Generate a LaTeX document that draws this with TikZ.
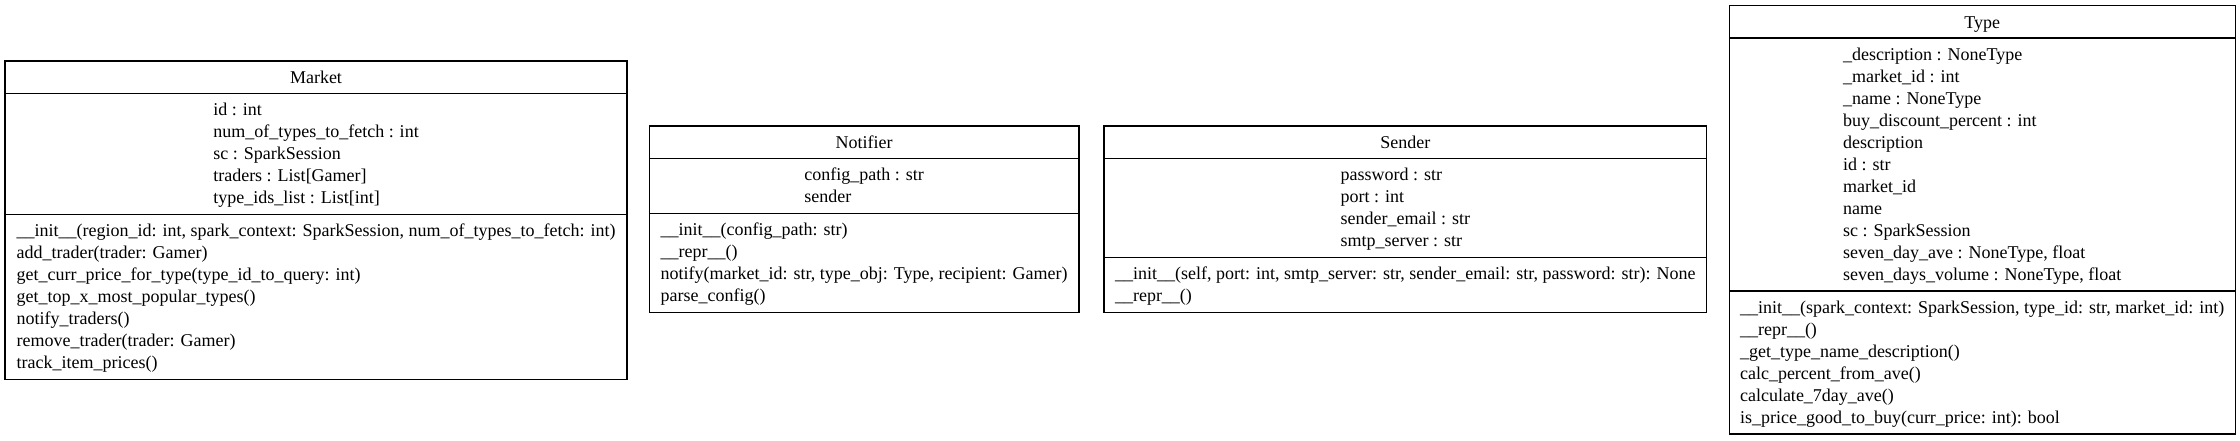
\documentclass[tikz,border=0pt]{standalone}
\usepackage{fontspec}
\setmainfont{Liberation Serif}
\newcommand\umlfont{\fontsize{18}{22}\selectfont}
\tikzset{
  clsbox/.style={draw, line width=1.2pt, inner sep=0pt, outer sep=0pt, anchor=north west},
  sepline/.style={line width=1.2pt},
  umltext/.style={inner sep=0pt, outer sep=0pt, font=\umlfont},
}
\begin{document}
\begin{tikzpicture}[x=1pt,y=1pt]
\useasboundingbox (0,0) rectangle (2240,-440);

% ---------------- Market ----------------
\node[clsbox, minimum width=622pt, minimum height=318.3pt] (market) at (5,-61) {};
\draw[sepline] ([yshift=-32.3pt]market.north west) -- ([yshift=-32.3pt]market.north east);
\draw[sepline] ([yshift=-153.3pt]market.north west) -- ([yshift=-153.3pt]market.north east);
\node[umltext, anchor=base] (market-title) at ([yshift=-22.3pt]market.north) {Market};
\node[umltext, anchor=base] (market-attrs) at ([yshift=-54.3pt]market.north) {\begin{tabular}[t]{@{}l@{}}
id : int\\
num\_of\_types\_to\_fetch : int\\
sc : SparkSession\\
traders : List[Gamer]\\
type\_ids\_list : List[int]
\end{tabular}};
\node[umltext, anchor=base west] (market-methods) at ([xshift=11.7pt,yshift=-175.3pt]market.north west) {\begin{tabular}[t]{@{}l@{}}
\_\_init\_\_(region\_id: int, spark\_context: SparkSession, num\_of\_types\_to\_fetch: int)\\
add\_trader(trader: Gamer)\\
get\_curr\_price\_for\_type(type\_id\_to\_query: int)\\
get\_top\_x\_most\_popular\_types()\\
notify\_traders()\\
remove\_trader(trader: Gamer)\\
track\_item\_prices()
\end{tabular}};

% ---------------- Notifier ----------------
\node[clsbox, minimum width=429.7pt, minimum height=186.3pt] (notifier) at (649.3,-126) {};
\draw[sepline] ([yshift=-32.3pt]notifier.north west) -- ([yshift=-32.3pt]notifier.north east);
\draw[sepline] ([yshift=-87.3pt]notifier.north west) -- ([yshift=-87.3pt]notifier.north east);
\node[umltext, anchor=base] (notifier-title) at ([yshift=-22.3pt]notifier.north) {Notifier};
\node[umltext, anchor=base] (notifier-attrs) at ([yshift=-54.3pt]notifier.north) {\begin{tabular}[t]{@{}l@{}}
config\_path : str\\
sender
\end{tabular}};
\node[umltext, anchor=base west] (notifier-methods) at ([xshift=11.4pt,yshift=-109.3pt]notifier.north west) {\begin{tabular}[t]{@{}l@{}}
\_\_init\_\_(config\_path: str)\\
\_\_repr\_\_()\\
notify(market\_id: str, type\_obj: Type, recipient: Gamer)\\
parse\_config()
\end{tabular}};

% ---------------- Sender ----------------
\node[clsbox, minimum width=602.7pt, minimum height=186.3pt] (sender) at (1104,-126) {};
\draw[sepline] ([yshift=-32.3pt]sender.north west) -- ([yshift=-32.3pt]sender.north east);
\draw[sepline] ([yshift=-131.3pt]sender.north west) -- ([yshift=-131.3pt]sender.north east);
\node[umltext, anchor=base] (sender-title) at ([yshift=-22.3pt]sender.north) {Sender};
\node[umltext, anchor=base] (sender-attrs) at ([yshift=-54.3pt]sender.north) {\begin{tabular}[t]{@{}l@{}}
password : str\\
port : int\\
sender\_email : str\\
smtp\_server : str
\end{tabular}};
\node[umltext, anchor=base west] (sender-methods) at ([xshift=11pt,yshift=-153.3pt]sender.north west) {\begin{tabular}[t]{@{}l@{}}
\_\_init\_\_(self, port: int, smtp\_server: str, sender\_email: str, password: str): None\\
\_\_repr\_\_()
\end{tabular}};

% ---------------- Type ----------------
\node[clsbox, minimum width=506pt, minimum height=428.3pt] (type) at (1729.3,-5.7) {};
\draw[sepline] ([yshift=-32.3pt]type.north west) -- ([yshift=-32.3pt]type.north east);
\draw[sepline] ([yshift=-285.3pt]type.north west) -- ([yshift=-285.3pt]type.north east);
\node[umltext, anchor=base] (type-title) at ([yshift=-22.3pt]type.north) {Type};
\node[umltext, anchor=base] (type-attrs) at ([yshift=-54.3pt]type.north) {\begin{tabular}[t]{@{}l@{}}
\_description : NoneType\\
\_market\_id : int\\
\_name : NoneType\\
buy\_discount\_percent : int\\
description\\
id : str\\
market\_id\\
name\\
sc : SparkSession\\
seven\_day\_ave : NoneType, float\\
seven\_days\_volume : NoneType, float
\end{tabular}};
\node[umltext, anchor=base west] (type-methods) at ([xshift=10.7pt,yshift=-307.3pt]type.north west) {\begin{tabular}[t]{@{}l@{}}
\_\_init\_\_(spark\_context: SparkSession, type\_id: str, market\_id: int)\\
\_\_repr\_\_()\\
\_get\_type\_name\_description()\\
calc\_percent\_from\_ave()\\
calculate\_7day\_ave()\\
is\_price\_good\_to\_buy(curr\_price: int): bool
\end{tabular}};
\end{tikzpicture}
\end{document}
